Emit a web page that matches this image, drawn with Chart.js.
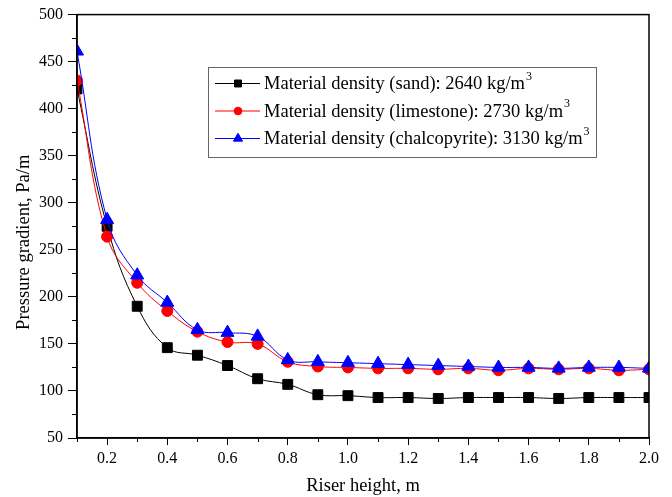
<!DOCTYPE html>
<html>
<head>
<meta charset="utf-8">
<script src="https://cdn.jsdelivr.net/npm/chart.js@4.4.1/dist/chart.umd.min.js"></script>
<style>
  html, body { margin: 0; padding: 0; background: #fff; }
  #wrap { width: 672px; height: 497px; }
</style>
</head>
<body>
<div id="wrap"><canvas id="chart" width="672" height="497"></canvas></div>
<script>
// riser height (m)
const heights = [0.1, 0.2, 0.3, 0.4, 0.5, 0.6, 0.7, 0.8, 0.9, 1.0,
                 1.1, 1.2, 1.3, 1.4, 1.5, 1.6, 1.7, 1.8, 1.9, 2.0];

// pressure gradient (Pa/m)
const sand = [421, 275, 190, 146, 138, 127, 113, 107, 96, 95,
              93, 93, 92, 93, 93, 93, 92, 93, 93, 93];
const limestone = [430, 264, 215, 185, 163, 152, 150, 131, 126, 125,
                   124, 124, 123, 124, 122, 124, 123, 124, 122, 123];
const chalcopyrite = [461, 282, 223, 194, 165, 162, 158, 133, 131, 130,
                      129, 128, 127, 126, 125, 125, 124, 125, 125, 124];

const seriesNames = [
    'Material density (sand): 2640 kg/m',
    'Material density (limestone): 2730 kg/m',
    'Material density (chalcopyrite): 3130 kg/m'
];
const yTitle = 'Pressure gradient, Pa/m';

const xTicks = [0.2, 0.4, 0.6, 0.8, 1.0, 1.2, 1.4, 1.6, 1.8, 2.0];
const xMinorTicks = [0.1, 0.3, 0.5, 0.7, 0.9, 1.1, 1.3, 1.5, 1.7, 1.9];
const yMinorTicks = [75, 125, 175, 225, 275, 325, 375, 425, 475];

const SERIF = '"Liberation Serif", "Times New Roman", serif';

function pts(ys) {
    return heights.map((x, i) => ({ x: x, y: ys[i] }));
}

// frame, minor ticks, y title and the boxed legend
const framePlugin = {
    id: 'frame',
    afterDraw(chart) {
        const { ctx, chartArea: a, scales } = chart;
        ctx.save();
        ctx.strokeStyle = '#000';
        ctx.lineWidth = 1.5;
        ctx.strokeRect(a.left, a.top, a.right - a.left, a.bottom - a.top);

        ctx.lineWidth = 1;
        ctx.beginPath();
        xMinorTicks.forEach(v => {
            const px = Math.round(scales.x.getPixelForValue(v)) + 0.5;
            ctx.moveTo(px, a.bottom);
            ctx.lineTo(px, a.bottom + 4);
        });
        yMinorTicks.forEach(v => {
            const py = Math.round(scales.y.getPixelForValue(v)) + 0.5;
            ctx.moveTo(a.left, py);
            ctx.lineTo(a.left - 5, py);
        });
        ctx.stroke();

        // y axis title (sits a little below the axis centre in the original)
        ctx.save();
        ctx.translate(24, (a.top + a.bottom) / 2 + 16);
        ctx.rotate(-Math.PI / 2);
        ctx.fillStyle = '#000';
        ctx.font = '18.5px ' + SERIF;
        ctx.textAlign = 'center';
        ctx.textBaseline = 'middle';
        ctx.fillText(yTitle, 0, 0);
        ctx.restore();

        // legend
        const bx = 208, by = 67, bw = 388, bh = 90;
        ctx.fillStyle = '#fff';
        ctx.fillRect(bx, by, bw, bh);
        ctx.strokeStyle = '#666';
        ctx.lineWidth = 1;
        ctx.strokeRect(bx + 0.5, by + 0.5, bw, bh);

        chart.data.datasets.forEach((ds, i) => {
            const cy = by + 16.5 + i * 27.5;
            ctx.strokeStyle = ds.borderColor;
            ctx.lineWidth = 1;
            ctx.beginPath();
            ctx.moveTo(215, cy);
            ctx.lineTo(260, cy);
            ctx.stroke();
            ctx.fillStyle = ds.pointBackgroundColor;
            ctx.strokeStyle = ds.pointBorderColor;
            Chart.helpers.drawPoint(ctx, {
                pointStyle: ds.pointStyle,
                radius: ds.pointRadius * 0.7,
                borderWidth: 1
            }, 238, cy);

            ctx.fillStyle = '#000';
            ctx.font = '18.5px ' + SERIF;
            ctx.textBaseline = 'middle';
            ctx.textAlign = 'left';
            ctx.fillText(ds.label, 264, cy + 1);
            const w = ctx.measureText(ds.label).width;
            ctx.font = '12px ' + SERIF;
            ctx.fillText('3', 264 + w + 1, cy - 7);
        });
        ctx.restore();
    }
};

function makeSet(label, data, color, style, radius) {
    return {
        label: label,
        data: pts(data),
        borderColor: color,
        backgroundColor: color,
        pointBackgroundColor: color,
        pointBorderColor: color,
        pointStyle: style,
        pointRadius: radius,
        pointBorderWidth: 1,
        borderWidth: 1,
        tension: 0.4,
        showLine: true
    };
}

const datasets = [
    makeSet(seriesNames[0], sand, '#000000', 'rect', 7),
    makeSet(seriesNames[1], limestone, '#ff0000', 'circle', 5.5),
    makeSet(seriesNames[2], chalcopyrite, '#0000ff', 'triangle', 7.5)
];
datasets[0].order = 3;
datasets[1].order = 2;
datasets[2].order = 1;

new Chart(document.getElementById('chart'), {
    type: 'scatter',
    data: { datasets: datasets },
    options: {
        responsive: false,
        animation: false,
        layout: { padding: { top: 13, right: 23, left: 0, bottom: 0 } },
        plugins: {
            legend: { display: false },
            tooltip: { enabled: false }
        },
        scales: {
            x: {
                type: 'linear',
                min: 0.1,
                max: 2.0,
                afterBuildTicks: scale => {
                    scale.ticks = xTicks.map(v => ({ value: v }));
                },
                afterFit: scale => { scale.height = 59; },
                ticks: {
                    color: '#000',
                    font: { family: SERIF, size: 16 },
                    padding: 4,
                    callback: v => Number(v).toFixed(1)
                },
                grid: {
                    drawOnChartArea: false,
                    drawTicks: true,
                    tickLength: 7,
                    color: '#000',
                    tickColor: '#000'
                },
                border: { display: true, color: '#000', width: 1.5 },
                title: {
                    display: true,
                    text: 'Riser height, m',
                    color: '#000',
                    font: { family: SERIF, size: 18.5 },
                    padding: { top: 0, bottom: 0 }
                }
            },
            y: {
                min: 50,
                max: 500,
                afterFit: scale => { scale.width = 77; },
                ticks: {
                    stepSize: 50,
                    color: '#000',
                    font: { family: SERIF, size: 16 },
                    padding: 5
                },
                grid: {
                    drawOnChartArea: false,
                    drawTicks: true,
                    tickLength: 9,
                    color: '#000',
                    tickColor: '#000'
                },
                border: { display: true, color: '#000', width: 1.5 },
                title: { display: false }
            }
        }
    },
    plugins: [framePlugin]
});
</script>
</body>
</html>
